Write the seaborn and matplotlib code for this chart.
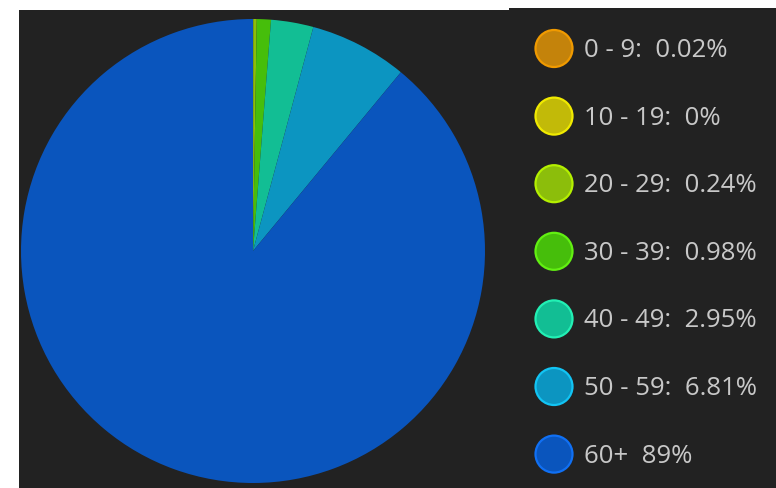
import matplotlib
matplotlib.use("Agg")
import matplotlib.pyplot as plt
import seaborn as sns
from matplotlib.patches import Rectangle

sns.set_theme(style="dark")
plt.rcParams['font.family'] = ['Open Sans', 'DejaVu Sans']

# data
age_groups = ["0 - 9", "10 - 19", "20 - 29", "30 - 39", "40 - 49", "50 - 59", "60+"]
shares = [0.02, 0, 0.24, 0.98, 2.95, 6.81, 89]
labels = ["0 - 9:  0.02%", "10 - 19:  0%", "20 - 29:  0.24%", "30 - 39:  0.98%",
          "40 - 49:  2.95%", "50 - 59:  6.81%", "60+  89%"]
fill_colors = ["#C4830B", "#C2BA08", "#8CBE0B", "#46BE0B", "#12BE94", "#0C95C1", "#0A55BD"]
edge_colors = ["#F09A00", "#F0EA00", "#B4F000", "#62F012", "#22F0B4", "#12C4F4", "#1070F4"]

W, H = 776, 488
fig = plt.figure(figsize=(W / 100, H / 100), dpi=100)
fig.patch.set_facecolor("white")
bg = "#222222"

# full-figure overlay axes in pixel coordinates (background + legend)
lax = fig.add_axes([0, 0, 1, 1], zorder=0)
lax.set_facecolor("none")
lax.set_xlim(0, W)
lax.set_ylim(H, 0)
lax.set_axis_off()
lax.add_patch(Rectangle((19, 10), 509 - 19, H - 10, facecolor=bg, edgecolor="none", zorder=0))
lax.add_patch(Rectangle((509, 8), W - 509, H - 8, facecolor=bg, edgecolor="none", zorder=0))

# pie
cx, cy, r = 253, 251, 232
ax = fig.add_axes([(cx - r) / W, (H - cy - r) / H, 2 * r / W, 2 * r / H], zorder=1)
ax.set_facecolor("none")
ax.pie(shares, colors=fill_colors, startangle=90, counterclock=False,
       wedgeprops=dict(linewidth=0, antialiased=True), radius=1.0)
ax.set_xlim(-1, 1)
ax.set_ylim(-1, 1)
ax.set_axis_off()

# legend
ys = [48.5 + i * 67.6 for i in range(len(age_groups))]
d_pt = 37 * 0.72
lax.scatter([554] * len(ys), ys, s=d_pt ** 2, c=fill_colors, edgecolors=edge_colors,
            linewidths=1.6, zorder=3)
for y, lab in zip(ys, labels):
    lax.text(584, y + 2, lab, color="#C8C8C8", fontsize=18.5, va="center", ha="left", zorder=3)

fig.savefig("out.png", dpi=100, facecolor=fig.get_facecolor())
